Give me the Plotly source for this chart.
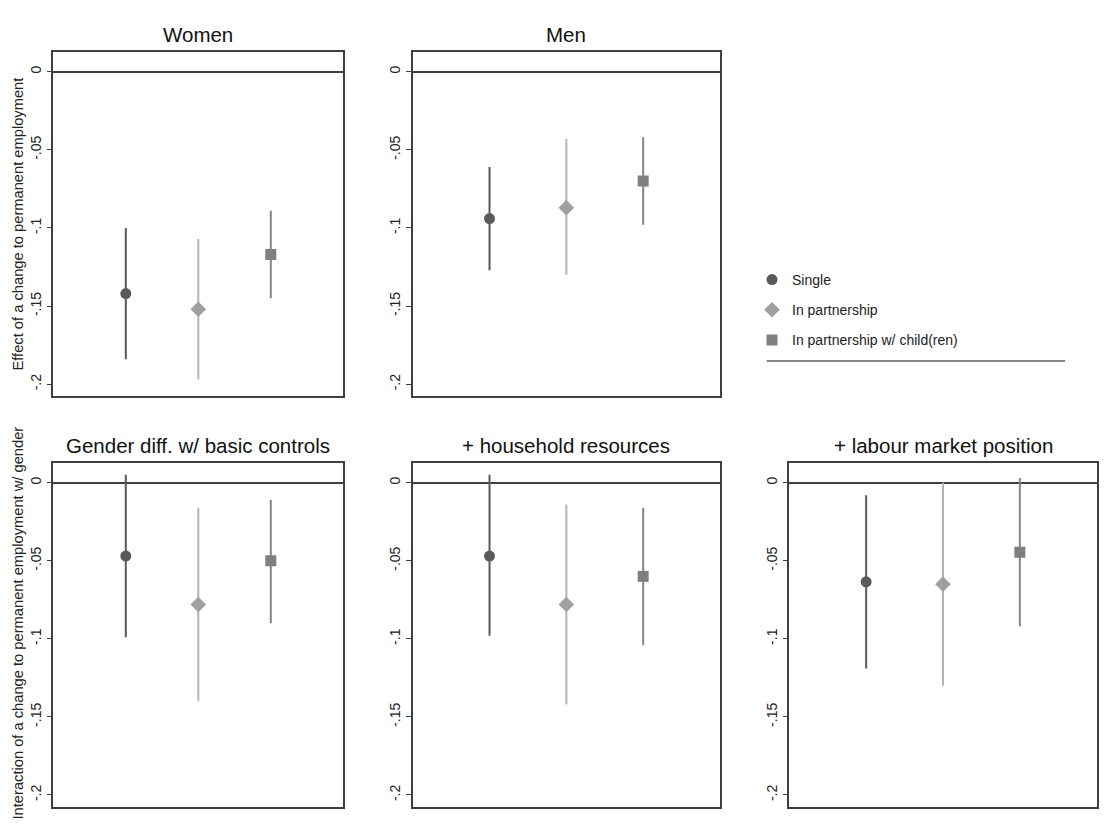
import plotly.graph_objects as go

OFF = 8  # page body margin of the browser
W, H = 1110 - 2 * OFF, 826 - 2 * OFF

panels = ["Women", "Men", "Gender diff. w/ basic controls",
          "+ household resources", "+ labour market position"]
groups = ["Single", "In partnership", "In partnership w/ child(ren)"]
group_x = [1, 2, 3]

single_est = [-0.142, -0.094, -0.047, -0.047, -0.0635]
single_lo = [-0.184, -0.127, -0.099, -0.098, -0.119]
single_hi = [-0.100, -0.061, 0.005, 0.005, -0.008]

partner_est = [-0.152, -0.087, -0.078, -0.078, -0.065]
partner_lo = [-0.197, -0.130, -0.140, -0.142, -0.130]
partner_hi = [-0.107, -0.043, -0.016, -0.014, 0.000]

child_est = [-0.117, -0.070, -0.050, -0.060, -0.0445]
child_lo = [-0.145, -0.098, -0.090, -0.104, -0.092]
child_hi = [-0.089, -0.042, -0.011, -0.016, 0.003]

tick_vals = [0, -0.05, -0.1, -0.15, -0.2]
tick_text = ["0", "-.05", "-.1", "-.15", "-.2"]

ytitle_top = "Effect of a change to permanent employment"
ytitle_bottom = "Interaction of a change to permanent employment w/ gender"

series = [
    (single_est, single_lo, single_hi, "circle", 11, "#5a5a5a", "#5a5a5a"),
    (partner_est, partner_lo, partner_hi, "diamond", 12, "#a0a0a0", "#b4b4b4"),
    (child_est, child_lo, child_hi, "square", 11, "#7f7f7f", "#858585"),
]


def px(x):
    return (x - OFF) / W


def py(y):
    return 1 - (y - OFF) / H


# pixel frames of each panel in the page (left, right, top, bottom)
frames = [
    (53.3, 343.3, 52.3, 396.0),
    (412.7, 720.0, 52.3, 396.0),
    (53.3, 343.3, 463.3, 806.7),
    (412.7, 720.0, 463.3, 806.7),
    (789.3, 1096.7, 463.3, 806.7),
]

FONT = "Liberation Sans, Arial, sans-serif"
fig = go.Figure()
layout = {}
annotations = []

for p, (l, r, t, b) in enumerate(frames):
    n = "" if p == 0 else str(p + 1)
    xa, ya = "x" + n, "y" + n
    for g, (est, lo, hi, sym, size, mcol, lcol) in enumerate(series):
        fig.add_trace(go.Scatter(
            x=[group_x[g]], y=[est[p]],
            mode="markers",
            marker=dict(symbol=sym, size=size, color=mcol, line=dict(width=0)),
            error_y=dict(type="data", symmetric=False,
                         array=[hi[p] - est[p]], arrayminus=[est[p] - lo[p]],
                         color=lcol, thickness=2, width=0),
            name=groups[g], legendgroup=groups[g],
            showlegend=(p == 0),
            xaxis=xa, yaxis=ya,
        ))
    layout["xaxis" + n] = dict(
        domain=[px(l), px(r)], range=[0, 4], anchor=ya,
        showgrid=False, zeroline=False, showticklabels=False, ticks="",
        showline=True, mirror=True, linecolor="#404040", linewidth=1.5,
    )
    layout["yaxis" + n] = dict(
        domain=[py(b), py(t)], range=[-0.2075, 0.0124], anchor=xa,
        showgrid=False, zeroline=True, zerolinecolor="#404040", zerolinewidth=1.5,
        tickvals=tick_vals, ticktext=tick_text, tickangle=-90,
        ticks="outside", ticklen=5, tickwidth=1, tickcolor="#404040",
        tickfont=dict(family=FONT, size=14, color="#222222"),
        showline=True, mirror=True, linecolor="#404040", linewidth=1.5,
    )
    annotations.append(dict(
        text=panels[p], x=px((l + r) / 2), y=py(t - 4),
        xref="paper", yref="paper", xanchor="center", yanchor="bottom",
        showarrow=False, font=dict(family=FONT, size=20.5, color="#111111"),
    ))

annotations.append(dict(
    text=ytitle_top, x=px(17.5), y=py(224), xref="paper", yref="paper",
    xanchor="center", yanchor="middle", textangle=-90, showarrow=False,
    font=dict(family=FONT, size=14.7, color="#222222"),
))
annotations.append(dict(
    text=ytitle_bottom, x=px(17.5), y=py(623), xref="paper", yref="paper",
    xanchor="center", yanchor="middle", textangle=-90, showarrow=False,
    font=dict(family=FONT, size=14.7, color="#222222"),
))

fig.update_layout(
    width=W, height=H,
    margin=dict(l=0, r=0, t=0, b=0),
    paper_bgcolor="white", plot_bgcolor="white",
    font=dict(family=FONT),
    showlegend=True,
    legend=dict(x=px(752), y=py(264), xanchor="left", yanchor="top",
                font=dict(family=FONT, size=14, color="#222222"),
                tracegroupgap=9, traceorder="grouped",
                bgcolor="rgba(0,0,0,0)", itemclick=False),
    annotations=annotations,
    shapes=[dict(type="line", xref="paper", yref="paper",
                 x0=px(766.7), x1=px(1065), y0=py(361), y1=py(361),
                 line=dict(color="#111111", width=1.2))],
    **layout,
)

fig.write_html("out.html")
